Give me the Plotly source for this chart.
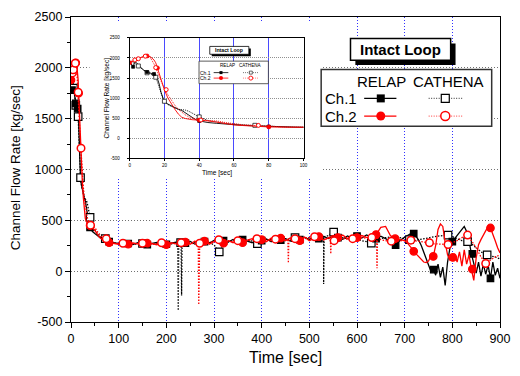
import plotly.graph_objects as go

FONT = "Liberation Sans, Arial, sans-serif"

# ---------------- data ----------------
t_early = [0, 1, 2, 3, 4, 5, 6, 8, 10, 12, 14, 15, 16, 17, 18, 19, 20, 22, 24, 26, 28, 30,
           32, 34, 36, 38, 40, 45, 50, 55, 60, 65, 70, 75, 80, 85, 90, 95, 100]
t_mid = list(range(110, 701, 10))
t_tail_relap = list(range(705, 901, 5))
t_tail_cathena = list(range(710, 901, 10))

# RELAP Ch.1
relap1_early = [1900, 1850, 1780, 1900, 1880, 1820, 1780, 1700, 1650, 1620, 1600, 1580, 1480, 1350,
                1150, 1000, 900, 850, 800, 760, 720, 690, 630, 560, 500, 460, 430, 390, 370, 350,
                335, 320, 310, 300, 290, 285, 280, 275, 270]
relap1_mid = [268, 276, 262, 280, 270, 258, 274, 282, 266, 260,
              276, 286, 262, 280, 292, 266, 284, 296, 276, 302,
              280, 306, 286, 312, 292, 318, 296, 280, 312, 296,
              316, 290, 326, 302, 320, 296, 326, 306, 332, 312,
              336, 316, 342, 320, 346, 326, 314, 346, 326, 350,
              326, 356, 332, 316, 344, 318, 296, 256, 302, 334]
relap1_tail = [345, 360, 375, 370, 340, 300, 250, 190, 120, 60,
               0, 30, -40, 70, -60, 40, -140, 90, 230, 290,
               320, 340, 370, 410, 440, 390, 300, 170, 60, -20,
               90, -50, 70, -30, 60, -70, 90, -40, 30, -70]

# RELAP Ch.2
relap2_early = [1880, 1900, 1920, 1940, 1960, 1980, 2000, 2040, 2050, 2030, 1950, 1880, 1750, 1620,
                1480, 1340, 1200, 1000, 850, 720, 600, 520, 490, 470, 460, 455, 450, 430, 400, 360,
                330, 315, 300, 290, 280, 275, 270, 268, 265]
relap2_mid = [272, 262, 278, 266, 258, 280, 268, 260, 276, 255,
              280, 266, 256, 292, 264, 296, 258, 302, 266, 290,
              306, 270, 300, 280, 312, 274, 306, 320, 284, 316,
              290, 326, 296, 332, 300, 326, 306, 296, 336, 300,
              324, 346, 306, 330, 350, 326, 356, 320, 346, 326,
              350, 332, 326, 360, 430, 440, 350, 320, 310, 300]
relap2_tail = [280, 255, 220, 195, 165, 140, 110, 90, 85, 100,
               150, 145, 250, 410, 465, 440, 280, 160, 110, 135,
               170, 90, 190, 50, 210, 70, 160, 20, -90, 130,
               260, 310, 350, 400, 440, 425, 370, 300, 230, 180]

# CATHENA Ch.1
cath1_early = [1900, 1920, 1880, 1870, 1830, 1800, 1760, 1700, 1630, 1600, 1560, 1520, 1400, 1250,
               1100, 1000, 920, 840, 790, 750, 720, 710, 700, 670, 620, 570, 530, 440, 400, 370,
               350, 330, 320, 310, 295, 285, 280, 275, 270]
cath1_mid = [270, 268, 270, 265, 272, 270, 268, 275, 270, 272,
             268, 275, 280, 280, 278, 285, 282, 290, 280, 260,
             190, 250, 290, 300, 305, 300, 310, 295, 270, 300,
             305, 310, 300, 315, 320, 310, 330, 325, 320, 330,
             340, 335, 345, 350, 385, 360, 330, 320, 310, 320,
             300, 290, 275, 300, 320, 330, 335, 340, 330, 320]
cath1_tail = [310, 300, 310, 320, 330, 335, 345, 350, 355, 340,
              320, 300, 290, 270, 230, 190, 160, 150, 140, 120]
cath1_spike_t = [224, 225, 226, 231, 232, 233, 529, 530, 531]
cath1_spike_v = [275, -386, 272, 278, -240, 276, 335, -125, 338]

# CATHENA Ch.2
cath2_early = [1900, 1910, 1930, 1950, 1960, 1980, 2000, 2040, 2050, 2000, 1850, 1760, 1650, 1540,
               1430, 1330, 1240, 1080, 940, 820, 720, 640, 580, 530, 500, 470, 455, 440, 430, 390,
               360, 335, 320, 305, 290, 283, 278, 274, 270]
cath2_mid = [275, 270, 272, 268, 275, 270, 272, 268, 280, 272,
             270, 275, 280, 270, 275, 270, 275, 280, 285, 290,
             310, 295, 300, 290, 300, 305, 300, 310, 320, 310,
             305, 300, 315, 310, 300, 310, 320, 315, 325, 330,
             338, 320, 310, 325, 300, 310, 320, 315, 320, 325,
             330, 325, 330, 320, 310, 300, 290, 295, 300, 305]
cath2_tail = [305, 300, 295, 285, 280, 270, 265, 260, 262, 280,
              300, 330, 355, 300, 230, 140, 75, 110, 140, 160]
cath2_spike_t = [267, 268, 269, 455, 456, 457, 544, 545, 546, 641, 642, 643]
cath2_spike_v = [272, -330, 274, 302, 80, 305, 322, 170, 318, 325, 30, 322]

# symbol positions
mk_r1_t = [2, 10, 14, 40, 80, 120, 160, 200, 240, 280, 320, 360, 400, 440, 480, 520, 560, 600,
           640, 681, 719, 761, 800, 842, 880]
mk_r1_v = [1780, 1650, 1600, 430, 290, 272, 262, 265, 275, 290, 300, 310, 300, 305, 310, 320, 330,
           345, 320, 257, 370, 16, 290, 170, -70]
mk_r2_t = [0, 10, 16, 40, 80, 120, 160, 200, 240, 280, 320, 360, 400, 440, 480, 520, 560, 600,
           640, 680, 719, 760, 801, 842, 880]
mk_r2_v = [1880, 2050, 1750, 450, 280, 265, 275, 260, 285, 295, 275, 280, 310, 325, 300, 340, 330,
           330, 360, 320, 195, 145, 135, 20, 425]
mk_c1_t = [5, 10, 15, 20, 40, 72, 150, 230, 311, 391, 470, 551, 630, 710, 791, 832, 873]
mk_c1_v = [1800, 1630, 1520, 920, 530, 320, 272, 280, 190, 270, 330, 385, 275, 310, 355, 290, 160]
mk_c2_t = [3, 5, 9, 15, 21, 41, 74, 109, 150, 190, 231, 270, 310, 350, 390, 429, 470, 511, 552,
           591, 631, 672, 713, 752, 791, 832, 870]
mk_c2_v = [1950, 1980, 2045, 1760, 1210, 452, 318, 275, 275, 280, 280, 275, 310, 300, 320, 315,
           320, 338, 300, 320, 330, 295, 305, 280, 262, 355, 75]

x_ticks = [0, 100, 200, 300, 400, 500, 600, 700, 800, 900]
x_labels = ["0", "100", "200", "300", "400", "500", "600", "700", "800", "900"]
y_ticks = [-500, 0, 500, 1000, 1500, 2000, 2500]
y_labels = ["-500", "0", "500", "1000", "1500", "2000", "2500"]
inset_x_ticks = [0, 20, 40, 60, 80, 100]
inset_x_labels = ["0", "20", "40", "60", "80", "100"]


def merge(t_list, v_list, st, sv):
    pairs = sorted(list(zip(t_list, v_list)) + list(zip(st, sv)), key=lambda p: p[0])
    return [p[0] for p in pairs], [p[1] for p in pairs]


t_r1 = t_early + t_mid + t_tail_relap
v_r1 = relap1_early + relap1_mid + relap1_tail
t_r2 = t_early + t_mid + t_tail_relap
v_r2 = relap2_early + relap2_mid + relap2_tail
t_c1, v_c1 = merge(t_early + t_mid + t_tail_cathena, cath1_early + cath1_mid + cath1_tail,
                   cath1_spike_t, cath1_spike_v)
t_c2, v_c2 = merge(t_early + t_mid + t_tail_cathena, cath2_early + cath2_mid + cath2_tail,
                   cath2_spike_t, cath2_spike_v)

RED = "#ff0000"
BLK = "#000000"
DOT = "1.5px,1.5px"

fig = go.Figure()


def add_set(xa, ya, lw, ms, mlw, dot):
    kw = dict(xaxis=xa, yaxis=ya, showlegend=False, hoverinfo="skip")
    fig.add_trace(go.Scatter(x=t_c1, y=v_c1, mode="lines",
                             line=dict(color=BLK, width=lw, dash=dot), **kw))
    fig.add_trace(go.Scatter(x=t_r1, y=v_r1, mode="lines",
                             line=dict(color=BLK, width=lw), **kw))
    fig.add_trace(go.Scatter(x=mk_c1_t, y=mk_c1_v, mode="markers",
                             marker=dict(symbol="square", size=ms, color="white",
                                         line=dict(color=BLK, width=mlw)), **kw))
    fig.add_trace(go.Scatter(x=mk_r1_t, y=mk_r1_v, mode="markers",
                             marker=dict(symbol="square", size=ms - 1, color=BLK,
                                         line=dict(color=BLK, width=mlw)), **kw))
    fig.add_trace(go.Scatter(x=t_r2, y=v_r2, mode="lines",
                             line=dict(color=RED, width=lw), **kw))
    fig.add_trace(go.Scatter(x=t_c2, y=v_c2, mode="lines",
                             line=dict(color=RED, width=lw, dash=dot), **kw))
    fig.add_trace(go.Scatter(x=mk_r2_t, y=mk_r2_v, mode="markers",
                             marker=dict(symbol="circle", size=ms, color=RED,
                                         line=dict(color=RED, width=mlw)), **kw))
    fig.add_trace(go.Scatter(x=mk_c2_t, y=mk_c2_v, mode="markers",
                             marker=dict(symbol="circle", size=ms, color="white",
                                         line=dict(color=RED, width=mlw + 0.3)), **kw))


add_set("x", "y", 1.3, 7.5, 1.2, DOT)
add_set("x2", "y2", 0.9, 4, 0.7, "1px,1px")

# ---------------- legend samples (pixel-coordinate overlay axis) ----------------
def legend_samples(xl0, xl1, xm, xc0, xc1, xcm, y1, y2, lw, ms, mlw, dot):
    kw = dict(xaxis="x3", yaxis="y3", showlegend=False, hoverinfo="skip")
    fig.add_trace(go.Scatter(x=[xl0, xl1], y=[y1, y1], mode="lines",
                             line=dict(color=BLK, width=lw), **kw))
    fig.add_trace(go.Scatter(x=[xm], y=[y1], mode="markers",
                             marker=dict(symbol="square", size=ms - 1, color=BLK), **kw))
    fig.add_trace(go.Scatter(x=[xc0, xc1], y=[y1, y1], mode="lines",
                             line=dict(color="#555555", width=lw, dash=dot), **kw))
    fig.add_trace(go.Scatter(x=[xcm], y=[y1], mode="markers",
                             marker=dict(symbol="square", size=ms - 1, color="white",
                                         line=dict(color=BLK, width=mlw)), **kw))
    fig.add_trace(go.Scatter(x=[xl0, xl1], y=[y2, y2], mode="lines",
                             line=dict(color=RED, width=lw), **kw))
    fig.add_trace(go.Scatter(x=[xm], y=[y2], mode="markers",
                             marker=dict(symbol="circle", size=ms, color=RED), **kw))
    fig.add_trace(go.Scatter(x=[xc0, xc1], y=[y2, y2], mode="lines",
                             line=dict(color="#ff6060", width=lw, dash=dot), **kw))
    fig.add_trace(go.Scatter(x=[xcm], y=[y2], mode="markers",
                             marker=dict(symbol="circle", size=ms, color="white",
                                         line=dict(color=RED, width=mlw + 0.3)), **kw))


legend_samples(371, 404, 388, 437, 472, 454, 94, 112, 1.3, 9, 1.2, "1px,1.5px")
legend_samples(217, 232, 224.5, 247, 263, 255, 67.7, 73.3, 0.8, 4, 0.6, "1px,1px")

shapes = [
    # white area behind the inset (hides main grid)
    dict(type="rect", xref="x", yref="y", layer="between",
         x0=39, x1=527, y0=918, y1=2442, fillcolor="white", line=dict(width=0)),
    # main "Intact Loop" box with shadow
    dict(type="rect", xref="x3", yref="y3", layer="between",
         x0=362, x1=464.5, y0=38, y1=60, fillcolor="black", line=dict(width=0)),
    dict(type="rect", xref="x3", yref="y3", layer="between",
         x0=357, x1=459.5, y0=33, y1=55, fillcolor="white", line=dict(color="black", width=1.5)),
    # main legend box
    dict(type="rect", xref="x3", yref="y3", layer="between",
         x0=327, x1=501.5, y0=64.5, y1=122.5, fillcolor="white", line=dict(color="#333333", width=1.5)),
    # inset "Intact Loop" box with shadow
    dict(type="rect", xref="x3", yref="y3", layer="between",
         x0=215, x1=255, y0=43, y1=51, fillcolor="black", line=dict(width=0)),
    dict(type="rect", xref="x3", yref="y3", layer="between",
         x0=213, x1=253, y0=41, y1=49, fillcolor="white", line=dict(color="black", width=0.8)),
    # inset legend box
    dict(type="rect", xref="x3", yref="y3", layer="between",
         x0=202, x1=273, y0=56, y1=79, fillcolor="white", line=dict(color="#333333", width=0.8)),
]


def ann(x, y, text, size, xanchor="center", bold=False, angle=0):
    return dict(x=x, y=y, xref="x3", yref="y3", text=("<b>%s</b>" % text) if bold else text,
                showarrow=False, xanchor=xanchor, yanchor="middle", textangle=angle,
                font=dict(family=FONT, size=size, color="black"))


annotations = [
    ann(408, 44.5, "Intact Loop", 15, bold=True),
    ann(388.5, 77, "RELAP", 15),
    ann(457.5, 77, "CATHENA", 15),
    ann(366, 94.5, "Ch.1", 15, xanchor="right"),
    ann(366, 112.5, "Ch.2", 15, xanchor="right"),
    ann(233, 45, "Intact Loop", 5.2, bold=True),
    ann(231, 60.5, "RELAP", 4.6),
    ann(255, 60.5, "CATHENA", 4.6),
    ann(216, 67.7, "Ch.1", 5, xanchor="right"),
    ann(216, 73.5, "Ch.2", 5, xanchor="right"),
    ann(108, 94, "Channel Flow Rate [kg/sec]", 6.6, angle=-90),
    ann(220, 170, "Time [sec]", 6.6),
    # main axis titles
    dict(x=(14 - 71) / 439, y=(322 - 165) / 311, xref="paper", yref="paper",
         text="Channel Flow Rate [kg/sec]",
         showarrow=False, textangle=-90, xanchor="center", yanchor="middle",
         font=dict(family=FONT, size=13.5, color="black")),
    dict(x=(291 - 71) / 439, y=(322 - 358.5) / 311, xref="paper", yref="paper", text="Time [sec]",
         showarrow=False, xanchor="center", yanchor="middle",
         font=dict(family=FONT, size=16, color="black")),
]

axis_common = dict(showline=True, linecolor="black", mirror=True, zeroline=False,
                   ticks="outside", tickcolor="black", fixedrange=True)

fig.update_layout(
    width=520, height=376,
    margin=dict(l=71, r=10, t=11, b=54),
    paper_bgcolor="white", plot_bgcolor="rgba(0,0,0,0)",
    font=dict(family=FONT, color="black"),
    showlegend=False,
    xaxis=dict(domain=[0, 1], range=[0, 900], tickvals=x_ticks, ticktext=x_labels, ticklen=5,
               linewidth=1.3, tickwidth=1.2, tickfont=dict(size=12.5, family=FONT),
               showgrid=True, gridcolor="#3030ff", griddash="1px,2px", gridwidth=1,
               minor=dict(dtick=50, ticklen=3, ticks="outside", tickcolor="black", showgrid=False),
               anchor="y", **axis_common),
    yaxis=dict(domain=[0, 1], range=[-500, 2500], tickvals=y_ticks, ticktext=y_labels, ticklen=5,
               linewidth=1.3, tickwidth=1.2, tickfont=dict(size=12.5, family=FONT),
               showgrid=True, gridcolor="#707070", griddash="1px,2px", gridwidth=1.2,
               minor=dict(dtick=250, ticklen=3, ticks="outside", tickcolor="black", showgrid=False),
               anchor="x", **axis_common),
    xaxis2=dict(domain=[0.1367, 0.5421], range=[0, 100], tickvals=inset_x_ticks,
                ticktext=inset_x_labels, ticklen=2,
                linewidth=0.8, tickwidth=0.6, tickfont=dict(size=4.5, family=FONT),
                showgrid=True, gridcolor="#4a4aff", gridwidth=0.8,
                anchor="y2", **axis_common),
    yaxis2=dict(domain=[0.537, 0.9315], range=[-500, 2500], tickvals=y_ticks, ticktext=y_labels,
                ticklen=2, linewidth=0.8, tickwidth=0.6, tickfont=dict(size=4.5, family=FONT),
                showgrid=True, gridcolor="#909090", griddash="1px,1px", gridwidth=1,
                ticklabelstandoff=6, anchor="x2", **axis_common),
    xaxis3=dict(domain=[0, 1], range=[71, 510], visible=False, anchor="y3", fixedrange=True),
    yaxis3=dict(domain=[0, 1], range=[322, 11], visible=False, anchor="x3", fixedrange=True),
    shapes=shapes,
    annotations=annotations,
)

fig.write_html("out.html")
